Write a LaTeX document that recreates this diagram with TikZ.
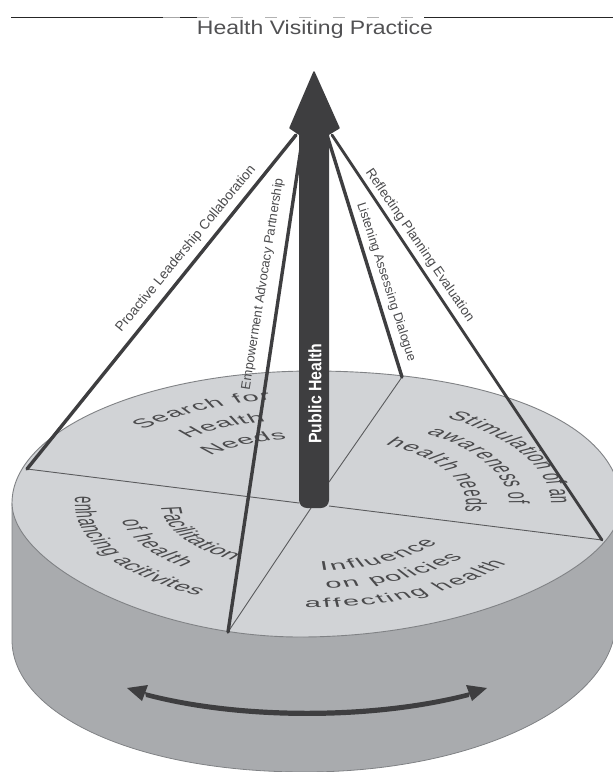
\documentclass[tikz,border=0pt]{standalone}
\usepackage{fontspec}
\setmainfont{Liberation Sans}
\usetikzlibrary{decorations.text}
\definecolor{dark}{HTML}{3E3E40}
\definecolor{topc}{HTML}{D1D3D6}
\definecolor{sidec}{HTML}{A9ABAE}
\definecolor{edgec}{HTML}{808285}
\definecolor{txt}{HTML}{4A4A4C}
\newcommand\flatfont{\fontsize{29}{32}\selectfont\color{txt}}
\tikzset{
  strut/.style={draw=dark,line width=3.4pt,line cap=round},
  sector/.style={draw=edgec!70!black,line width=0.9pt},
  edgelabel/.style={font=\fontsize{13.4}{15}\selectfont,text=txt,inner sep=0pt},
  arctext/.style={decorate,decoration={text along path,text align={fit to path},text={|\flatfont|#1}}}
}
\begin{document}
\begin{tikzpicture}[x=1pt,y=-1pt]
\useasboundingbox (0,0) rectangle (613,772);
% header rule
\draw[black!85,line width=1pt] (11,17) -- (163,17) (180,17) -- (197,17) (424,17) -- (613,17);
\draw[black!35,line width=0.7pt] (163,17) -- (180,17);
\draw[black!30,line width=0.6pt,dash pattern=on 12pt off 22pt] (197,17) -- (424,17);
\node[xscale=1.18,transform shape,font=\fontsize{19.5}{22}\selectfont,text=dark!90,inner sep=0pt] (title) at (315,29) {Health Visiting Practice};
% cylinder
\filldraw[fill=sidec,draw=edgec,line width=0.8pt] (12,503) -- (12,640) .. controls (12,713) and (133,772) .. (305,772) .. controls (477,772) and (616,704) .. (616,620) -- (625,500) -- cycle;
\filldraw[fill=topc,draw=edgec,line width=0.9pt] (12,503) .. controls (12,430) and (147,371) .. (313,371) .. controls (483,371) and (621,420) .. (621,505) .. controls (621,565) and (477,637) .. (300,637) .. controls (150,637) and (12,563) .. (12,503) -- cycle;
% anchor points
\coordinate (apexA) at (296,135); \coordinate (apexB) at (303,135);
\coordinate (apexC) at (327,135); \coordinate (apexD) at (332,135);
\coordinate (rimA) at (27,469); \coordinate (rimB) at (228,632);
\coordinate (rimC) at (402,377); \coordinate (rimD) at (602,540);
\coordinate (hubA) at (299,503); \coordinate (hubB) at (311,508);
\coordinate (hubC) at (329,482); \coordinate (hubD) at (329,506);
% sectors
\draw[sector] (rimA) -- (hubA);
\draw[sector] (rimB) -- (hubB);
\draw[sector] (rimC) -- (hubC);
\draw[sector] (hubD) -- (rimD);
% text lying on the disc
\begin{scope}[transform canvas={cm={1,0,0,0.44,(313pt,-504pt)}},x=1pt,y=1pt]
\path[arctext={Search for}] (135:240) arc[start angle=135,end angle=100,radius=240];
\path[arctext={Health}] (130:194) arc[start angle=130,end angle=104,radius=194];
\path[arctext={Needs}] (133:150) arc[start angle=133,end angle=100,radius=150];
\path[arctext={Facilitation}] (183:152) arc[start angle=183,end angle=238,radius=152];
\path[arctext={of health}] (191:195) arc[start angle=191,end angle=228,radius=195];
\path[arctext={enhancing acitivites}] (176:238) arc[start angle=176,end angle=241,radius=238];
\path[arctext={Influence}] (273:152) arc[start angle=273,end angle=325,radius=152];
\path[arctext={on policies}] (274:193) arc[start angle=274,end angle=321,radius=193];
\path[arctext={affecting health}] (268:236) arc[start angle=268,end angle=325,radius=236];
\path[arctext={Stimulation of an}] (56:238) arc[start angle=56,end angle=0,radius=238];
\path[arctext={awareness of}] (55:196) arc[start angle=55,end angle=0,radius=196];
\path[arctext={health needs}] (62:153) arc[start angle=62,end angle=-7,radius=153];
\end{scope}
% central arrow
\fill[dark,rounded corners=8pt] (299,125) -- (329,125) -- (329,508) -- (299,508) -- cycle;
\filldraw[fill=dark,draw=dark,line width=1.5pt,line join=round] (314,72) -- (339,128) -- (329,134) -- (299,134) -- (290,128) -- cycle;
\node[rotate=90,xscale=0.88,transform shape,font=\bfseries\fontsize{18}{20}\selectfont,text=white,inner sep=0pt] (ph) at (315,393.5) {Public Health};
% struts
\draw[strut] (apexA) -- (rimA);
\draw[strut] (apexB) -- (rimB);
\draw[strut] (apexC) -- (rimC);
\draw[strut,line width=2.8pt] (apexD) -- (rimD);
% strut labels
\node[edgelabel,rotate=50.5,font=\fontsize{13.6}{15}\selectfont] (l1) at (186,249) {Proactive Leadership Collaboration};
\node[edgelabel,rotate=81,font=\fontsize{13}{15}\selectfont] (l2) at (263,284) {Empowerment Advocacy Partnership};
\node[edgelabel,rotate=-72,font=\fontsize{12.7}{15}\selectfont] (l3) at (386,282) {Listening Assessing Dialogue};
\node[edgelabel,rotate=-55.6] (l4) at (419.5,245.5) {Reflecting Planning Evaluation};
% double arrow
\fill[dark] (145,692) .. controls (240,717) and (374,717) .. (470,692) -- (469,697) .. controls (374,722.3) and (240,722.3) .. (146,697) -- cycle;
\fill[dark] (127,688) -- (148,685) -- (142,701) -- cycle;
\fill[dark] (487,688) -- (466,685) -- (472,701) -- cycle;
\end{tikzpicture}
\end{document}
